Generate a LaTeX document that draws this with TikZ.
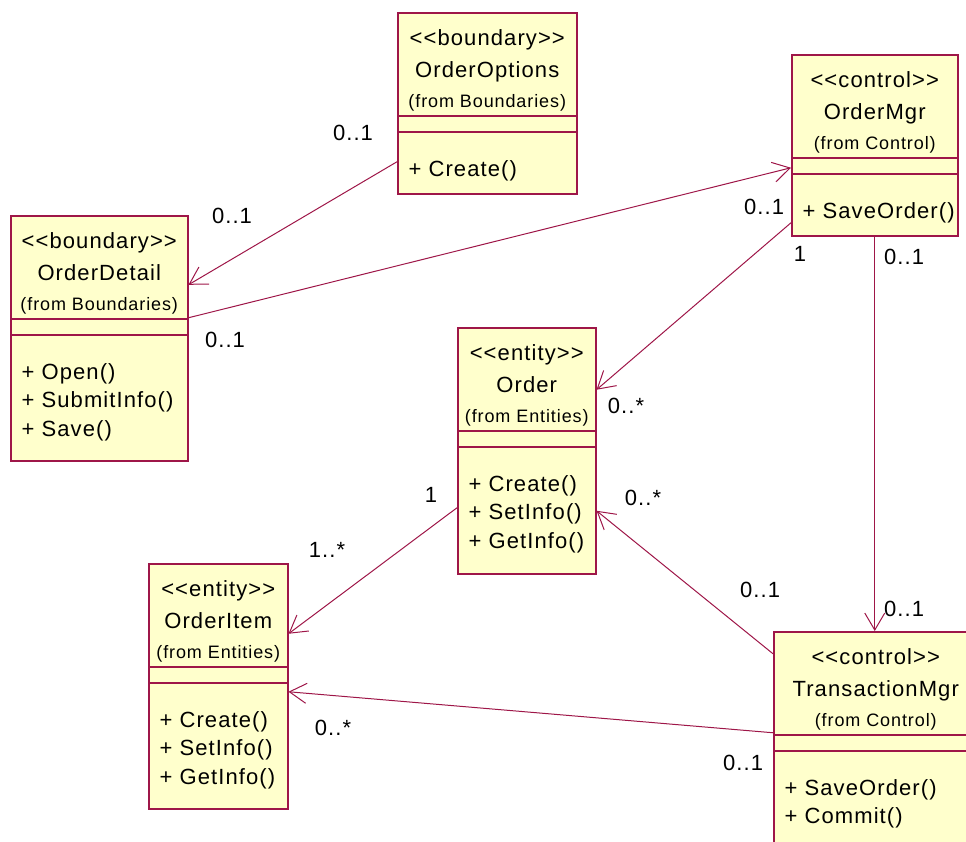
\documentclass[tikz,border=0pt]{standalone}
\usepackage{fontspec}
\setmainfont{Liberation Sans}[LetterSpace=5, Ligatures=TeXOff]
\usetikzlibrary{arrows.meta}
\definecolor{umlred}{RGB}{158,22,72}
\definecolor{umlfill}{RGB}{255,255,204}
\tikzset{
  cls/.style={draw=umlred, fill=umlfill, line width=1.5pt, inner sep=0pt},
  sep/.style={draw=umlred, line width=1.5pt},
  ttl/.style={anchor=base, font=\fontsize{22}{26}\selectfont},
  pkg/.style={anchor=base, font=\fontsize{18}{20}\selectfont},
  meth/.style={anchor=base west, font=\fontsize{22}{26}\selectfont},
  mult/.style={font=\fontsize{22}{26}\selectfont},
  assoc/.style={draw=umlred, line width=1pt, -{Straight Barb[length=17pt,width=20pt]}}
}
% name, left, top, width, height, stereotype, title, package, methods
\newcommand\umlclass[9]{
  \node[cls, minimum width=#4pt, minimum height=#5pt, anchor=north west] (#1) at (#2,#3) {};
  \draw[sep] ([yshift=-104pt]#1.north west) -- ([yshift=-104pt]#1.north east)
    ([yshift=-120pt]#1.north west) -- ([yshift=-120pt]#1.north east);
  \node[ttl] (#1-st) at ([yshift=-33pt]#1.north) {<<#6>>};
  \node[ttl] (#1-nm) at ([yshift=-65pt]#1.north) {#7};
  \node[pkg] (#1-pk) at ([yshift=-95pt]#1.north) {(from #8)};
  \foreach \m [count=\i] in {#9}
    \node[meth] (#1-m\i) at ([xshift=8pt, yshift={-164pt-28.5pt*(\i-1)}]#1.north west) {\m};
}

\begin{document}
\begin{tikzpicture}[x=1pt, y=-1pt]
  \useasboundingbox (0,0) rectangle (966,841);
  \clip (0,0) rectangle (966,841);

  \umlclass{options}{397}{12}{179}{181}{boundary}{OrderOptions}{Boundaries}{+ Create()}
  \umlclass{mgr}{791}{54}{166}{181}{control}{OrderMgr}{Control}{+ SaveOrder()}
  \umlclass{detail}{10}{215}{177}{245}{boundary}{OrderDetail}{Boundaries}{+ Open(), + SubmitInfo(), + Save()}
  \umlclass{order}{457}{327}{138}{246}{entity}{Order}{Entities}{+ Create(), + SetInfo(), + GetInfo()}
  \umlclass{item}{148}{563}{139}{245}{entity}{OrderItem}{Entities}{+ Create(), + SetInfo(), + GetInfo()}
  \umlclass{trans}{773}{631}{204}{225}{control}{TransactionMgr}{Control}{+ SaveOrder(), + Commit()}

  % associations
  \draw[assoc] ([yshift=-58.5pt]options.west) -- ([yshift=53.5pt]detail.east);
  \draw[assoc] ([yshift=20.5pt]detail.east) -- ([yshift=-22.5pt]mgr.west);
  \draw[assoc] ([yshift=-77.5pt]mgr.west) -- ([yshift=61pt]order.east);
  \draw[assoc] (mgr.south) -- (mgr.south |- trans.north);
  \draw[assoc] ([yshift=90.5pt]trans.west) -- ([yshift=-60pt]order.east);
  \draw[assoc] ([yshift=11.5pt]trans.west) -- ([yshift=-5.5pt]item.east);
  \draw[assoc] ([yshift=-57pt]order.west) -- ([yshift=52.5pt]item.east);

  % multiplicities
  \node[mult] (m1a) at (353,133) {0..1};
  \node[mult] (m1b) at (232,216) {0..1};
  \node[mult] (m2a) at (225,340) {0..1};
  \node[mult] (m2b) at (764,207) {0..1};
  \node[mult] (m3a) at (800,254) {1};
  \node[mult] (m3b) at (626,406) {0..*};
  \node[mult] (m4a) at (904,257) {0..1};
  \node[mult] (m4b) at (904,609) {0..1};
  \node[mult] (m5a) at (760,590) {0..1};
  \node[mult] (m5b) at (643,498) {0..*};
  \node[mult] (m6a) at (743,763) {0..1};
  \node[mult] (m6b) at (333,728) {0..*};
  \node[mult] (m7a) at (431,495) {1};
  \node[mult] (m7b) at (327,550) {1..*};
\end{tikzpicture}
\end{document}
